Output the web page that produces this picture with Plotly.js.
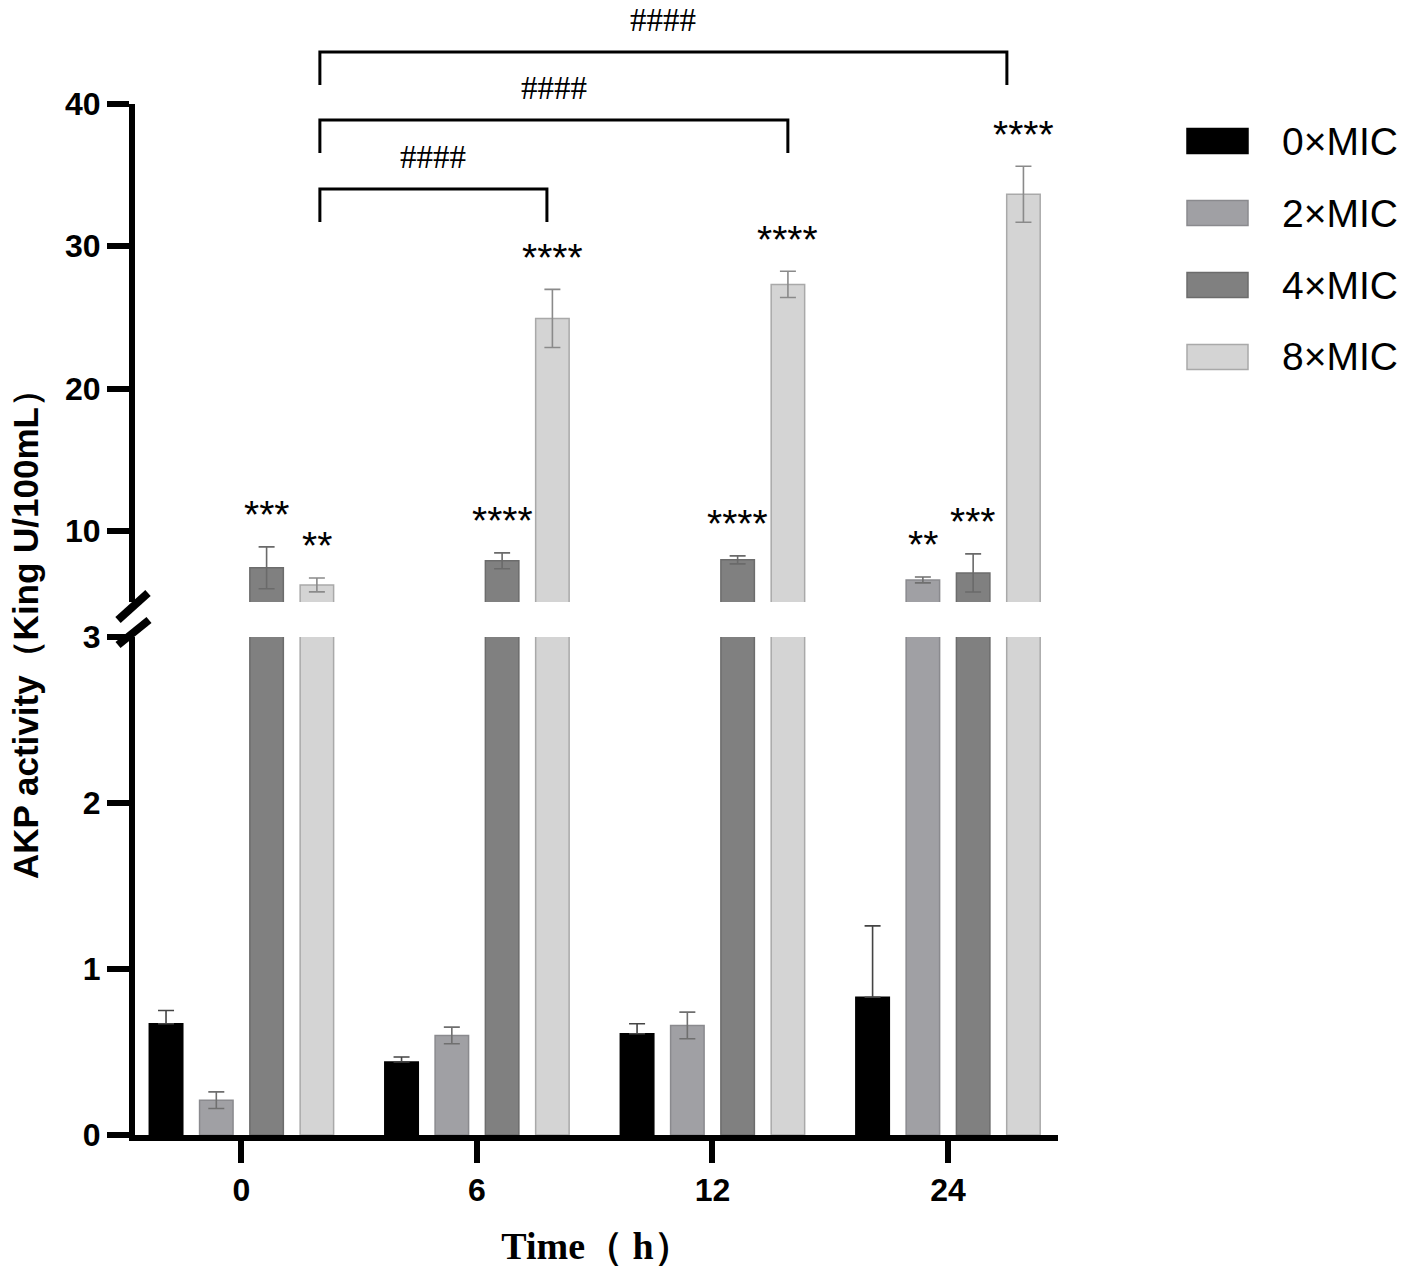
<!DOCTYPE html>
<html>
<head>
<meta charset="utf-8">
<script src="https://cdn.plot.ly/plotly-3.0.1.min.js"></script>
<style>
  html, body { margin: 0; padding: 0; background: #fff; }
  #chart { width: 1417px; height: 1271px; }
</style>
</head>
<body>
<div id="chart"></div>
<script>
// time points (h) and groups
var times = ['0', '6', '12', '24'];
var seriesNames = ['0×MIC', '2×MIC', '4×MIC', '8×MIC'];

// AKP activity (King U/100mL), mean and SD
var mic0 = [0.67, 0.44, 0.61, 0.83];
var err0 = [0.08, 0.03, 0.06, 0.43];
var mic2 = [0.21, 0.60, 0.66, 6.55];
var err2 = [0.05, 0.05, 0.08, 0.21];
var mic4 = [7.40, 7.89, 7.96, 7.04];
var err4 = [1.47, 0.56, 0.28, 1.34];
var mic8 = [6.20, 24.93, 27.32, 33.66];
var err8 = [0.49, 2.04, 0.92, 1.97];

// significance marks vs 0×MIC
var stars0 = ['', '', '', ''];
var stars2 = ['', '', '', '**'];
var stars4 = ['***', '****', '****', '***'];
var stars8 = ['**', '****', '****', '****'];

// #### comparisons of 8×MIC: [from x, to x, label]
var brackets = [
    [0.333, 1.297, '####'],
    [0.333, 2.320, '####'],
    [0.333, 3.250, '####']
];

var fills = ['#000000', '#a0a0a4', '#808080', '#d4d4d4'];
var edges = ['#000000', '#8a8a8e', '#6c6c6c', '#a9a9a9'];
var errColors = ['#444444', '#6f6f6f', '#6a6a6a', '#8a8a8a'];

var values = [mic0, mic2, mic4, mic8];
var errors = [err0, err2, err4, err8];
var stars = [stars0, stars2, stars4, stars8];

var xpos = [0, 1, 2, 3];

// lower axis 0-3, upper axis 5-40
var LOW_MAX = 3, HIGH_MIN = 5;

// page geometry of the plot area (for decorations only)
var L = 135, R = 359, T = 104, B = 136, W = 1417, H = 1271;
var pw = W - L - R, ph = H - T - B;
function px(x) { return (x - L) / pw; }
function py(y) { return (H - B - y) / ph; }

var font = 'Liberation Sans, Arial, sans-serif';

function errFor(vals, errs, low) {
    return errs.map(function(e, i) {
        if (low) return vals[i] <= LOW_MAX ? e : null;
        return vals[i] >= HIGH_MIN ? e : null;
    });
}

var data = [];
[true, false].forEach(function(low) {
    for (var i = 0; i < values.length; i++) {
        var up = errFor(values[i], errors[i], low);
        // black bars only show the upper whisker
        var down = i === 0 ? up.map(function(e) { return e === null ? null : 0; }) : up;
        data.push({
            type: 'bar',
            name: seriesNames[i],
            x: xpos,
            y: values[i],
            yaxis: low ? 'y' : 'y2',
            showlegend: false,
            marker: {color: fills[i], line: {color: edges[i], width: 1.5}},
            error_y: {
                type: 'data',
                symmetric: false,
                array: up,
                arrayminus: down,
                visible: true,
                color: errColors[i],
                thickness: 1.6,
                width: 8
            }
        });
    }
});

var shapes = [];
var annotations = [];

// stars above error bars
for (var i = 0; i < values.length; i++) {
    for (var j = 0; j < xpos.length; j++) {
        if (!stars[i][j]) continue;
        annotations.push({
            xref: 'x', yref: 'y2',
            x: xpos[j] + (i - 1.5) * 0.2136,
            y: values[i][j] + errors[i][j],
            yanchor: 'middle', yshift: 32,
            text: stars[i][j], showarrow: false,
            font: {family: font, size: 39, color: '#000'}
        });
    }
}

// brackets
var bracketY = [189, 120, 52];
brackets.forEach(function(b, k) {
    var yTop = py(bracketY[k]), yLeg = py(bracketY[k] + 33);
    shapes.push({type: 'path', xref: 'x', yref: 'paper',
        path: 'M' + b[0] + ',' + yLeg + ' L' + b[0] + ',' + yTop + ' L' + b[1] + ',' + yTop + ' L' + b[1] + ',' + yLeg,
        line: {color: '#000', width: 3}});
    annotations.push({
        xref: 'x', yref: 'paper',
        x: (b[0] + b[1]) / 2, y: yTop, yanchor: 'bottom', yshift: 12,
        text: b[2], showarrow: false,
        font: {family: 'Liberation Serif, Times New Roman, serif', size: 33, color: '#000'}
    });
});

// axis break marks
shapes.push({type: 'line', xref: 'paper', yref: 'paper',
    x0: px(118), y0: py(620), x1: px(148), y1: py(593), line: {color: '#000', width: 8}});
shapes.push({type: 'line', xref: 'paper', yref: 'paper',
    x0: px(118), y0: py(645), x1: px(149), y1: py(620), line: {color: '#000', width: 8}});

// legend drawn by hand for large swatches
var legendRows = [141, 213, 285, 357];
for (var i = 0; i < seriesNames.length; i++) {
    shapes.push({type: 'rect', xref: 'paper', yref: 'paper',
        x0: px(1187), x1: px(1248), y0: py(legendRows[i] + 12.5), y1: py(legendRows[i] - 12.5),
        fillcolor: fills[i], line: {color: edges[i], width: 1.5}});
    annotations.push({
        xref: 'paper', yref: 'paper', x: px(1280), y: py(legendRows[i]),
        xanchor: 'left', yanchor: 'middle', text: seriesNames[i], showarrow: false,
        font: {family: font, size: 39, color: '#000'}
    });
}

// y axis title
annotations.push({
    xref: 'paper', yref: 'paper', x: px(25), y: py(626),
    xanchor: 'center', yanchor: 'middle', textangle: -90,
    text: 'AKP activity（King U/100mL）', showarrow: false,
    font: {family: font, size: 35, color: '#000', weight: 'bold'}
});

var axisStyle = {
    showline: true, linewidth: 6, linecolor: '#000',
    ticks: 'outside', ticklen: 22, tickwidth: 6, tickcolor: '#000',
    showgrid: false, zeroline: false,
    tickfont: {family: font, size: 32, color: '#000', weight: 'bold'}
};

var layout = {
    width: W, height: H,
    margin: {l: L, r: R, t: T, b: B},
    paper_bgcolor: '#fff', plot_bgcolor: '#fff',
    barmode: 'group', bargap: 0.146, bargroupgap: 0.334,
    showlegend: false,
    xaxis: Object.assign({}, axisStyle, {
        range: [-0.452, 3.467],
        tickvals: xpos, ticktext: times,
        anchor: 'y',
        title: {
            text: 'Time（ h）', standoff: 27,
            font: {family: 'Liberation Serif, Times New Roman, serif', size: 38, color: '#000', weight: 'bold'}
        }
    }),
    yaxis: Object.assign({}, axisStyle, {
        domain: [0, 0.483], range: [0, LOW_MAX], tickvals: [0, 1, 2, 3], anchor: 'x'
    }),
    yaxis2: Object.assign({}, axisStyle, {
        domain: [0.517, 1], range: [HIGH_MIN, 40], tickvals: [10, 20, 30, 40], anchor: 'x'
    }),
    shapes: shapes,
    annotations: annotations
};

Plotly.newPlot('chart', data, layout, {displayModeBar: false, staticPlot: true});
</script>
</body>
</html>
